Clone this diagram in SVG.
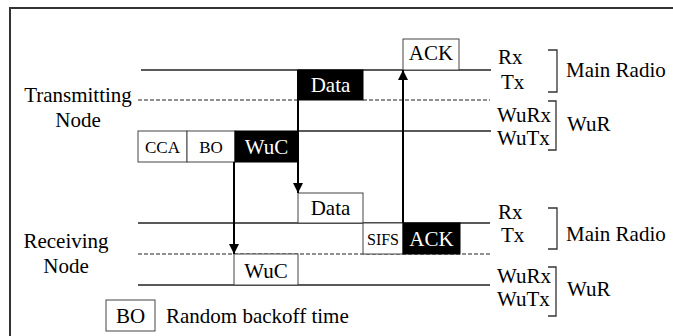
<svg xmlns="http://www.w3.org/2000/svg" width="673" height="336" viewBox="0 0 673 336">
  <defs>
    <style>
      text { font-family: "Liberation Serif", "Times New Roman", serif; fill: #000; }
      .big { font-size: 21px; }
      .mid { font-size: 17px; }
      .small { font-size: 16px; }
      .inv { fill: #fff; }
      .mid-anchor { text-anchor: middle; }
      .line { stroke: #222; stroke-width: 1.3; fill: none; }
      .dash { stroke: #222; stroke-width: 1.2; stroke-dasharray: 4 2; fill: none; }
      .box { fill: #fff; stroke: #444; stroke-width: 1; }
      .dark { fill: #000; stroke: #000; stroke-width: 1; }
      .arrow { stroke: #000; stroke-width: 2; fill: none; }
      .bracket { stroke: #333; stroke-width: 1.3; fill: none; }
    </style>
    <marker id="head" viewBox="0 0 10 10" refX="10" refY="5" markerWidth="5.5" markerHeight="5" orient="auto" markerUnits="strokeWidth">
      <path d="M0,0 L10,5 L0,10 z" fill="#000"/>
    </marker>
  </defs>

  <!-- frame -->
  <path d="M10,336 L10,8 L673,8" fill="none" stroke="#333" stroke-width="2"/>

  <!-- timeline axes -->
  <g id="timelines">
    <line class="line" x1="141" y1="70" x2="491" y2="70"/>
    <line class="dash" x1="138" y1="100" x2="298" y2="100"/>
    <line class="dash" x1="363" y1="100" x2="490" y2="100"/>
    <line class="line" x1="298" y1="131" x2="491" y2="131"/>
    <line class="line" x1="138" y1="223" x2="490" y2="223"/>
    <line class="dash" x1="138" y1="254" x2="490" y2="254"/>
    <line class="line" x1="138" y1="285" x2="490" y2="285"/>
  </g>

  <!-- transmitting node -->
  <g id="tx-label">
    <text class="big mid-anchor" x="78" y="102">Transmitting</text>
    <text class="big mid-anchor" x="78" y="127">Node</text>
  </g>
  <g id="tx-cca">
    <rect class="box" x="138" y="131" width="49" height="31"/>
    <text class="mid mid-anchor" x="162.5" y="153">CCA</text>
  </g>
  <g id="tx-bo">
    <rect class="box" x="187" y="131" width="48" height="31"/>
    <text class="mid mid-anchor" x="211" y="153">BO</text>
  </g>
  <g id="tx-wuc">
    <rect class="dark" x="235" y="131" width="63" height="31"/>
    <text class="big mid-anchor inv" x="266.5" y="154">WuC</text>
  </g>
  <g id="tx-data">
    <rect class="dark" x="298" y="70" width="65" height="30"/>
    <text class="big mid-anchor inv" x="330.5" y="92">Data</text>
  </g>
  <g id="tx-ack">
    <rect class="box" x="403" y="39" width="56" height="31"/>
    <text class="big mid-anchor" x="431" y="60">ACK</text>
  </g>

  <!-- receiving node -->
  <g id="rx-label">
    <text class="big mid-anchor" x="66" y="248">Receiving</text>
    <text class="big mid-anchor" x="66" y="273">Node</text>
  </g>
  <g id="rx-data">
    <rect class="box" x="298" y="193" width="65" height="30"/>
    <text class="big mid-anchor" x="330.5" y="215">Data</text>
  </g>
  <g id="rx-sifs">
    <rect class="box" x="363" y="223" width="40" height="31"/>
    <text class="small mid-anchor" x="383" y="245">SIFS</text>
  </g>
  <g id="rx-ack">
    <rect class="dark" x="403" y="223" width="57" height="31"/>
    <text class="big mid-anchor inv" x="431.5" y="246">ACK</text>
  </g>
  <g id="rx-wuc">
    <rect class="box" x="234" y="254" width="64" height="31"/>
    <text class="big mid-anchor" x="266" y="278">WuC</text>
  </g>

  <!-- radio labels -->
  <g id="tx-radios">
    <text class="big" x="498" y="64">Rx</text>
    <text class="big" x="501" y="89">Tx</text>
    <text class="big" x="497" y="122">WuRx</text>
    <text class="big" x="497" y="145">WuTx</text>
    <path class="bracket" d="M548,50 H557 V92 H548"/>
    <path class="bracket" d="M548,101 H556 V150 H548"/>
    <text class="big" x="566" y="77">Main Radio</text>
    <text class="big" x="567" y="131">WuR</text>
  </g>
  <g id="rx-radios">
    <text class="big" x="498" y="219">Rx</text>
    <text class="big" x="501" y="242">Tx</text>
    <text class="big" x="497" y="283">WuRx</text>
    <text class="big" x="497" y="306">WuTx</text>
    <path class="bracket" d="M548,208 H557 V249 H548"/>
    <path class="bracket" d="M548,267 H556 V316 H548"/>
    <text class="big" x="566" y="241">Main Radio</text>
    <text class="big" x="567" y="296">WuR</text>
  </g>

  <!-- legend -->
  <g id="legend">
    <rect class="box" x="106" y="300" width="49" height="31"/>
    <text class="big mid-anchor" x="130.5" y="323">BO</text>
    <text class="big" x="166" y="323">Random backoff time</text>
  </g>

  <!-- message connectors -->
  <g id="connectors">
    <line class="arrow" x1="234" y1="162" x2="234" y2="254" marker-end="url(#head)"/>
    <line class="arrow" x1="298" y1="70" x2="298" y2="193" marker-end="url(#head)"/>
    <line class="arrow" x1="403" y1="223" x2="403" y2="70" marker-end="url(#head)"/>
  </g>
</svg>
